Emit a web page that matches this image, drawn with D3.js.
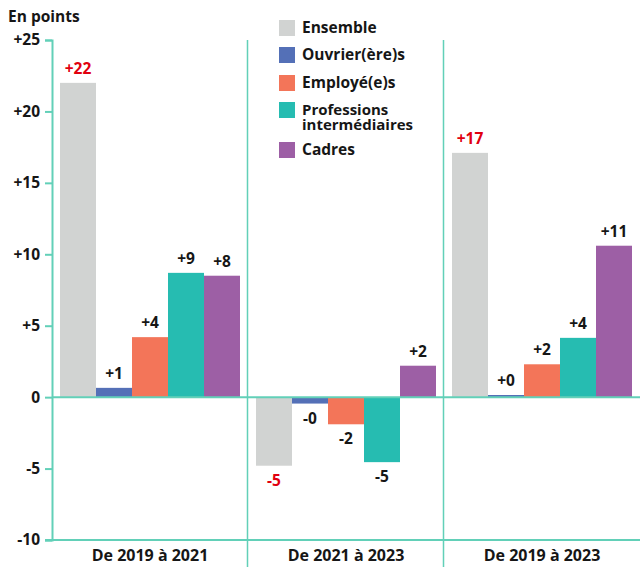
<!DOCTYPE html>
<html>
<head>
<meta charset="utf-8">
<script src="https://cdn.jsdelivr.net/npm/d3@7"></script>
<style>
  body { margin: 0; background: #fff; }
  svg { font-family: 'Open Sans', sans-serif; font-weight: 700; }
</style>
</head>
<body>
<div id="chart"></div>
<script>
// Periods (x groups)
const periods = ['De 2019 à 2021', 'De 2021 à 2023', 'De 2019 à 2023']
// Categories (series)
const categories = ['Ensemble', 'Ouvrier(ère)s', 'Employé(e)s', 'Professions intermédiaires', 'Cadres']
const colors = ['#d1d3d2', '#5470b7', '#f37559', '#26bcb1', '#9d5fa5']
// Values per series, one entry per period
const ensemble = [22.0, -4.8, 17.1]
const ouvriers = [0.65, -0.45, 0.15]
const employes = [4.2, -1.9, 2.3]
const intermediaires = [8.7, -4.55, 4.15]
const cadres = [8.5, 2.2, 10.6]
// Labels shown above / below bars
const labels = [
  ['+22', '+1', '+4', '+9', '+8'],
  ['-5', '-0', '-2', '-5', '+2'],
  ['+17', '+0', '+2', '+4', '+11']
]
const yTicks = [-10, -5, 0, 5, 10, 15, 20, 25]

const series = [ensemble, ouvriers, employes, intermediaires, cadres]
const width = 640
const height = 567
const lineColor = '#62d0b8'
const fs = 15.5

const svg = d3.select('#chart').append('svg')
  .attr('width', width)
  .attr('height', height)

const x0 = d3.scaleBand().domain(periods).range([52, 640]).padding(0)
const x1 = d3.scaleBand().domain(categories).range([8, x0.bandwidth() - 8]).padding(0)
const y = d3.scaleLinear().domain([-10, 25]).range([540, 40])

// title
svg.append('text')
  .attr('x', 8)
  .attr('y', 22)
  .attr('font-size', fs)
  .attr('fill', '#161616')
  .text('En points')

// y axis
const yAxis = d3.axisLeft(y)
  .tickValues(yTicks)
  .tickSize(7)
  .tickPadding(5)
  .tickFormat(d => d > 0 ? '+' + d : String(d))

const gy = svg.append('g')
  .attr('transform', 'translate(52,0)')
  .call(yAxis)
gy.select('.domain').attr('stroke', lineColor).attr('stroke-width', 2)
gy.selectAll('.tick line').attr('stroke', lineColor).attr('stroke-width', 2)
gy.selectAll('.tick text')
  .attr('font-size', fs)
  .attr('font-family', "'Open Sans', sans-serif")
  .attr('font-weight', 700)
  .attr('fill', '#161616')

// group separators
svg.selectAll('line.sep')
  .data(periods.slice(1))
  .enter()
  .append('line')
  .attr('class', 'sep')
  .attr('x1', d => x0(d) - 0.5)
  .attr('x2', d => x0(d) - 0.5)
  .attr('y1', y(25))
  .attr('y2', height)
  .attr('stroke', lineColor)
  .attr('stroke-width', 1.5)

// bars
const groups = svg.selectAll('g.period')
  .data(periods)
  .enter()
  .append('g')
  .attr('class', 'period')
  .attr('transform', d => 'translate(' + x0(d) + ',0)')

groups.selectAll('rect')
  .data((p, i) => categories.map((c, j) => ({ c, j, v: series[j][i] })))
  .enter()
  .append('rect')
  .attr('x', d => x1(d.c))
  .attr('width', x1.bandwidth())
  .attr('y', d => y(Math.max(0, d.v)))
  .attr('height', d => Math.abs(y(d.v) - y(0)))
  .attr('fill', d => colors[d.j])

groups.selectAll('text.val')
  .data((p, i) => categories.map((c, j) => ({ c, j, v: series[j][i], t: labels[i][j] })))
  .enter()
  .append('text')
  .attr('class', 'val')
  .attr('x', d => x1(d.c) + x1.bandwidth() / 2)
  .attr('y', d => d.v >= 0 ? y(d.v) - 9 : y(d.v) + 20)
  .attr('text-anchor', 'middle')
  .attr('font-size', fs)
  .attr('fill', d => d.j === 0 ? '#e1000f' : '#161616')
  .text(d => d.t)

// zero line and bottom line
svg.append('line')
  .attr('x1', 52).attr('x2', width)
  .attr('y1', y(0)).attr('y2', y(0))
  .attr('stroke', lineColor).attr('stroke-width', 2)
svg.append('line')
  .attr('x1', 45).attr('x2', width)
  .attr('y1', y(-10)).attr('y2', y(-10))
  .attr('stroke', lineColor).attr('stroke-width', 2)

// period labels
svg.selectAll('text.period')
  .data(periods)
  .enter()
  .append('text')
  .attr('class', 'period')
  .attr('x', d => x0(d) + x0.bandwidth() / 2)
  .attr('y', 561)
  .attr('text-anchor', 'middle')
  .attr('font-size', 16)
  .attr('fill', '#161616')
  .text(d => d)

// legend
const legend = svg.append('g').attr('transform', 'translate(279,20)')
const legendY = [0, 27, 55, 82, 122]
categories.forEach((c, i) => {
  const g = legend.append('g').attr('transform', 'translate(0,' + legendY[i] + ')')
  g.append('rect').attr('width', 16).attr('height', 16).attr('fill', colors[i])
  const words = c === 'Professions intermédiaires' ? ['Professions', 'intermédiaires'] : [c]
  words.forEach((w, k) => {
    g.append('text')
      .attr('x', 23)
      .attr('y', 12.5 + k * 15.5)
      .attr('font-size', words.length > 1 ? 15 : fs)
      .attr('fill', '#161616')
      .text(w)
  })
})
</script>
</body>
</html>
